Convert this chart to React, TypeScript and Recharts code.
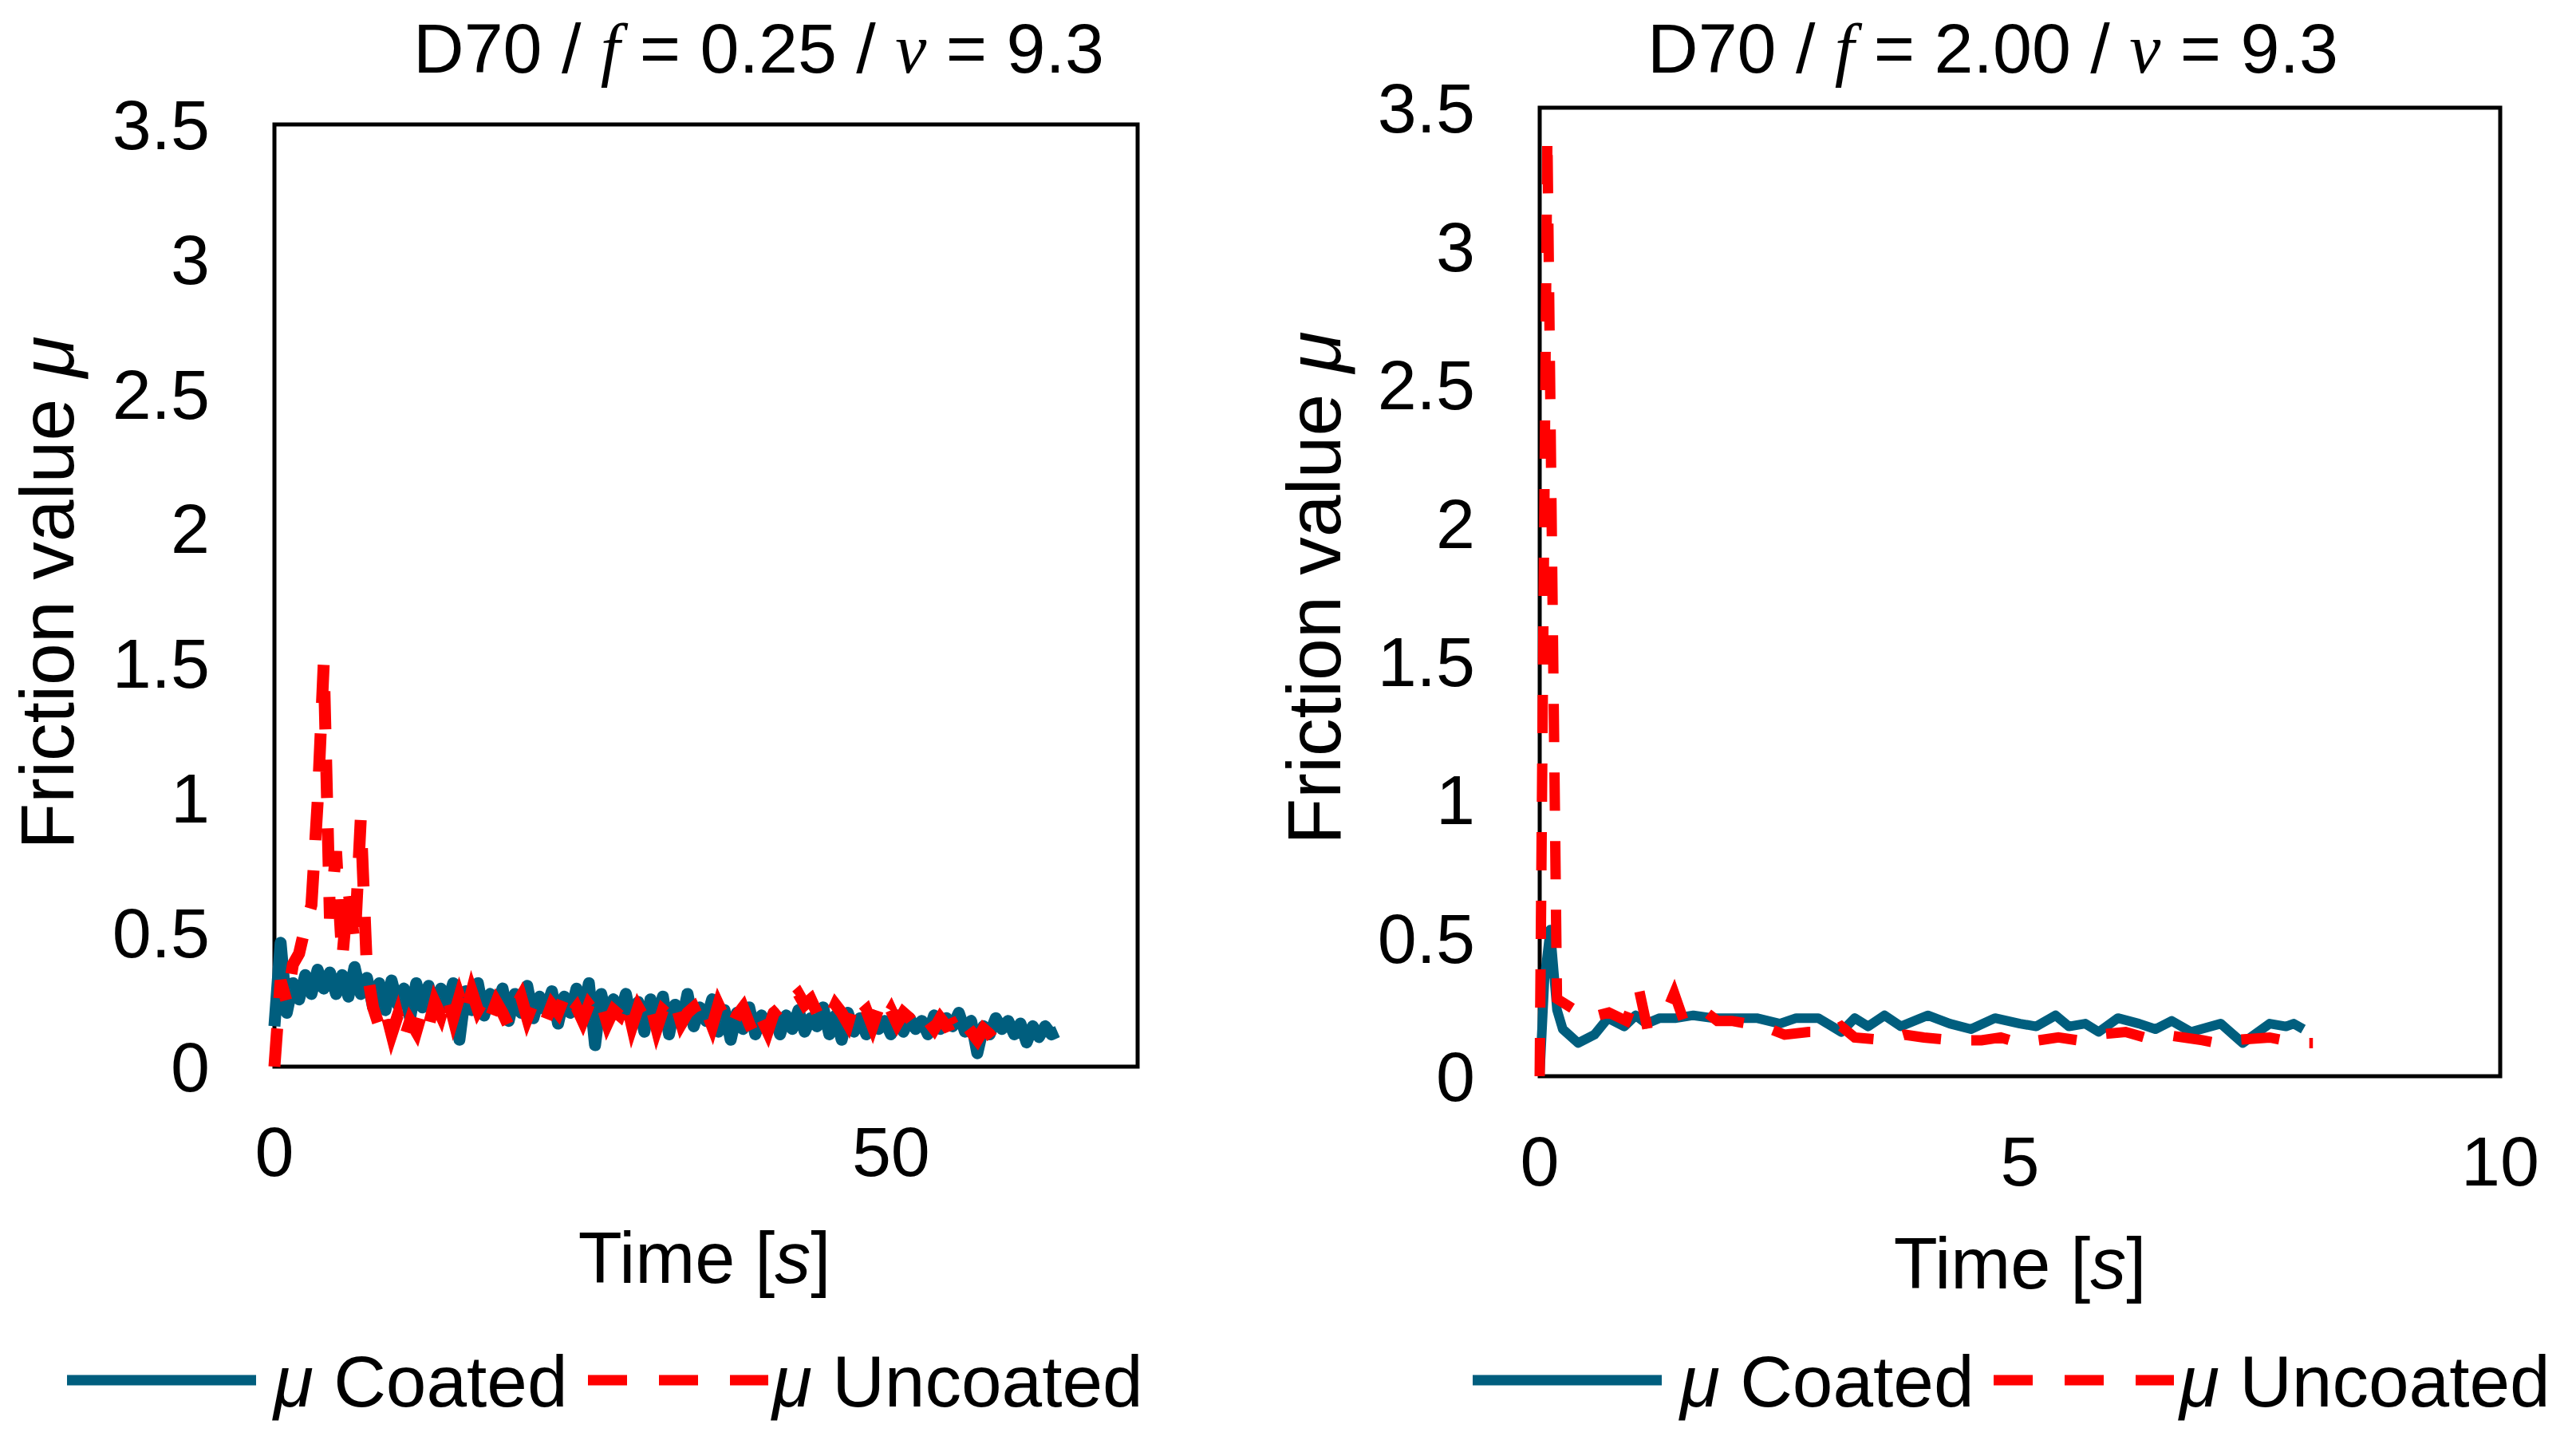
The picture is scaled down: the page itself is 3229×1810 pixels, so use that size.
import React from "react"
import { LineChart, Line, XAxis, YAxis, ReferenceArea } from "recharts"

// sampling step of the long 0.25 Hz test (s)
const leftStep = 0.5

// f = 0.25 run, one value per 0.5 s
const leftCoated = [
  0.15, 0.46, 0.2, 0.31, 0.25, 0.34, 0.27, 0.36, 0.29, 0.35,
  0.27, 0.34, 0.26, 0.37, 0.27, 0.33, 0.22, 0.31, 0.21, 0.32,
  0.23, 0.29, 0.18, 0.31, 0.22, 0.3, 0.2, 0.29, 0.23, 0.31,
  0.1, 0.28, 0.21, 0.31, 0.19, 0.27, 0.22, 0.29, 0.17, 0.27,
  0.2, 0.3, 0.18, 0.26, 0.21, 0.28, 0.16, 0.26, 0.2, 0.29,
  0.18, 0.31, 0.08, 0.27, 0.17, 0.25, 0.19, 0.27, 0.16, 0.24,
  0.13, 0.25, 0.17, 0.26, 0.12, 0.23, 0.16, 0.27, 0.15, 0.22,
  0.17, 0.25, 0.13, 0.21, 0.1, 0.2, 0.14, 0.22, 0.12, 0.19,
  0.15, 0.2, 0.12, 0.19, 0.14, 0.21, 0.13, 0.18, 0.15, 0.22,
  0.12, 0.19, 0.1, 0.2, 0.13, 0.18, 0.12, 0.19, 0.14, 0.17,
  0.12, 0.19, 0.13, 0.18, 0.14, 0.17, 0.12, 0.19, 0.14, 0.18,
  0.15, 0.2, 0.13, 0.17, 0.05, 0.15, 0.12, 0.18, 0.14, 0.17,
  0.12, 0.16, 0.09, 0.15, 0.11, 0.15, 0.12, 0.13,
]

const leftUncoated = [
  0.0, 0.32, 0.24, 0.38, 0.42, 0.52, 0.6, 0.98, 1.5, 0.55,
  0.8, 0.4, 0.66, 0.45, 0.92, 0.36, 0.22, 0.15, 0.21, 0.12,
  0.19, 0.1, 0.17, 0.13, 0.21, 0.15, 0.24, 0.19, 0.27, 0.18,
  0.26, 0.19, 0.28, 0.21, 0.25, 0.18, 0.24, 0.2, 0.15, 0.22,
  0.26, 0.18, 0.24, 0.21, 0.17, 0.23, 0.2, 0.26, 0.19, 0.22,
  0.17, 0.23, 0.2, 0.24, 0.16, 0.21, 0.19, 0.25, 0.15, 0.22,
  0.18, 0.23, 0.14, 0.21, 0.19, 0.24, 0.16, 0.2, 0.22, 0.17,
  0.21, 0.15, 0.23, 0.18, 0.14, 0.19, 0.22, 0.16, 0.11, 0.18,
  0.13, 0.2, 0.22, 0.27, 0.25, 0.27, 0.23, 0.25, 0.2, 0.22,
  0.18, 0.23, 0.2, 0.16, 0.24, 0.19, 0.21, 0.15, 0.22, 0.17,
  0.21, 0.16, 0.2, 0.18, 0.15, 0.19, 0.17, 0.14, 0.18, 0.15,
  0.16, 0.12, 0.16, 0.13, 0.1, 0.14, 0.12, 0.09, 0.11,
]

// f = 2.00 run
const rightCoatedTime = [
  0, 0.05, 0.11, 0.18, 0.24, 0.4, 0.57, 0.71, 0.88, 1.0,
  1.11, 1.25, 1.42, 1.6, 1.8, 2.0, 2.26, 2.5, 2.67, 2.9,
  3.14, 3.28, 3.42, 3.59, 3.76, 4.04, 4.27, 4.49, 4.74, 5.0,
  5.17, 5.37, 5.51, 5.68, 5.82, 6.02, 6.24, 6.41, 6.58, 6.78,
  7.09, 7.32, 7.6, 7.77, 7.85, 7.95,
]
const rightCoated = [
  0.0, 0.35, 0.53, 0.24, 0.17, 0.12, 0.15, 0.21, 0.18, 0.22,
  0.19, 0.21, 0.21, 0.22, 0.21, 0.21, 0.21, 0.19, 0.21, 0.21,
  0.16, 0.21, 0.18, 0.22, 0.18, 0.22, 0.19, 0.17, 0.21, 0.19,
  0.18, 0.22, 0.18, 0.19, 0.16, 0.21, 0.19, 0.17, 0.2, 0.16,
  0.19, 0.12, 0.19, 0.18, 0.19, 0.17,
]

const rightUncoatedTime = [
  0, 0.08, 0.18, 0.5, 0.72, 0.9, 1.03, 1.11, 1.28, 1.4,
  1.5, 1.7, 1.85, 2.0, 2.33, 2.55, 2.8, 3.03, 3.14, 3.28,
  3.6, 3.8, 4.0, 4.3, 4.6, 4.8, 5.0, 5.4, 5.6, 5.8,
  6.1, 6.3, 6.5, 6.9, 7.05, 7.2, 7.6, 7.75, 7.9, 8.05,
]
const rightUncoated = [
  0.0, 3.4, 0.28, 0.21, 0.23, 0.2, 0.32, 0.19, 0.2, 0.3,
  0.2, 0.24, 0.2, 0.2, 0.18, 0.15, 0.16, 0.16, 0.18, 0.14,
  0.13, 0.15, 0.14, 0.13, 0.13, 0.14, 0.12, 0.14, 0.13, 0.15,
  0.16, 0.14, 0.15, 0.13, 0.12, 0.13, 0.14, 0.13, 0.12, 0.12,
]

const yTicks = [0, 0.5, 1, 1.5, 2, 2.5, 3, 3.5]
const leftXTicks = [0, 50]
const rightXTicks = [0, 5, 10]

const BLUE = "#005E7E"
const RED = "#FF0000"
const SANS = "'Liberation Sans', Arial, Helvetica, sans-serif"
const SERIF = "'Liberation Serif', 'Times New Roman', serif"

const toPoints = (times: number[], values: number[]) =>
  values.map((mu, i) => ({ t: times[i], mu }))

const leftTimes = leftCoated.map((_, i) => i * leftStep)

const tickStyle = { fill: "#000", fontSize: 88, fontFamily: SANS }

type PanelProps = {
  left: number
  width: number
  margin: { top: number; right: number; bottom: number; left: number }
  yAxisWidth: number
  xMax: number
  xTicks: number[]
  coated: { t: number; mu: number }[]
  uncoated: { t: number; mu: number }[]
  coatedWidth: number
  uncoatedWidth: number
}

function FrictionPanel(p: PanelProps) {
  return (
    <div style={{ position: "absolute", left: p.left, top: 0 }}>
      <LineChart width={p.width} height={1560} margin={p.margin}>
        <XAxis
          type="number"
          dataKey="t"
          domain={[0, p.xMax]}
          ticks={p.xTicks}
          interval={0}
          axisLine={false}
          tickLine={false}
          tickSize={0}
          tickMargin={75}
          height={150}
          tick={tickStyle}
        />
        <YAxis
          type="number"
          domain={[0, 3.5]}
          ticks={yTicks}
          interval={0}
          axisLine={false}
          tickLine={false}
          tickSize={0}
          tickMargin={81}
          width={p.yAxisWidth}
          tick={tickStyle}
        />
        <ReferenceArea x1={0} x2={p.xMax} y1={0} y2={3.5} fill="none" fillOpacity={0} stroke="#000" strokeWidth={5} />
        <Line
          data={p.coated}
          dataKey="mu"
          type="linear"
          stroke={BLUE}
          strokeWidth={p.coatedWidth}
          strokeLinejoin="round"
          dot={false}
          isAnimationActive={false}
        />
        <Line
          data={p.uncoated}
          dataKey="mu"
          type="linear"
          stroke={RED}
          strokeWidth={p.uncoatedWidth}
          strokeDasharray="48 38"
          dot={false}
          isAnimationActive={false}
        />
      </LineChart>
    </div>
  )
}

function Title({ x, f }: { x: number; f: string }) {
  return (
    <text x={x} y={91} textAnchor="middle" fontSize={88} fontFamily={SANS} style={{ whiteSpace: "pre" }}>
      {"D70 / "}
      <tspan fontFamily={SERIF} fontStyle="italic">f</tspan>
      {` = ${f} / `}
      <tspan fontFamily={SERIF} fontStyle="italic">v</tspan>
      {" = 9.3"}
    </text>
  )
}

// baseline sits at x, text reads bottom to top
function YTitle({ x, y }: { x: number; y: number }) {
  return (
    <text
      x={x}
      y={y}
      transform={`rotate(-90 ${x} ${y})`}
      textAnchor="middle"
      fontSize={95}
      fontFamily={SANS}
      style={{ whiteSpace: "pre" }}
    >
      {"Friction value "}
      <tspan fontStyle="italic">μ</tspan>
    </text>
  )
}

function XTitle({ x, y }: { x: number; y: number }) {
  return (
    <text x={x} y={y} textAnchor="middle" fontSize={90} fontFamily={SANS} style={{ whiteSpace: "pre" }}>
      {"Time ["}
      <tspan fontStyle="italic">s</tspan>
      {"]"}
    </text>
  )
}

function LegendRow({ x0, dx }: { x0: number; dx: number[] }) {
  const y = 1730
  return (
    <g fontSize={91} fontFamily={SANS}>
      <line x1={x0} x2={x0 + 237} y1={y} y2={y} stroke={BLUE} strokeWidth={13} />
      <text x={x0 + dx[0]} y={1763} style={{ whiteSpace: "pre" }}>
        <tspan fontStyle="italic">μ</tspan>
        {" Coated"}
      </text>
      <line x1={x0 + dx[1]} x2={x0 + dx[1] + 226} y1={y} y2={y} stroke={RED} strokeWidth={13} strokeDasharray="49 40" />
      <text x={x0 + dx[2]} y={1763} style={{ whiteSpace: "pre" }}>
        <tspan fontStyle="italic">μ</tspan>
        {" Uncoated"}
      </text>
    </g>
  )
}

export default function App() {
  return (
    <div style={{ position: "absolute", left: 0, top: 0, width: 3229, height: 1810, background: "#fff" }}>
      <FrictionPanel
        left={0}
        width={1560}
        margin={{ top: 156, right: 134, bottom: 73, left: 0 }}
        yAxisWidth={344}
        xMax={70}
        xTicks={leftXTicks}
        coated={toPoints(leftTimes, leftCoated)}
        uncoated={toPoints(leftTimes, leftUncoated)}
        coatedWidth={15}
        uncoatedWidth={15}
      />
      <FrictionPanel
        left={1600}
        width={1629}
        margin={{ top: 135, right: 95, bottom: 61, left: 0 }}
        yAxisWidth={330}
        xMax={10}
        xTicks={rightXTicks}
        coated={toPoints(rightCoatedTime, rightCoated)}
        uncoated={toPoints(rightUncoatedTime, rightUncoated)}
        coatedWidth={12}
        uncoatedWidth={13}
      />
      <svg
        width={3229}
        height={1810}
        style={{ position: "absolute", left: 0, top: 0, pointerEvents: "none" }}
      >
        <Title x={951} f="0.25" />
        <Title x={2498} f="2.00" />
        <YTitle x={92} y={743} />
        <YTitle x={1680} y={737} />
        <XTitle x={883} y={1608} />
        <XTitle x={2532} y={1615} />
        <LegendRow x0={84} dx={[259, 653, 884]} />
        <LegendRow x0={1846} dx={[260, 653, 886]} />
      </svg>
    </div>
  )
}
